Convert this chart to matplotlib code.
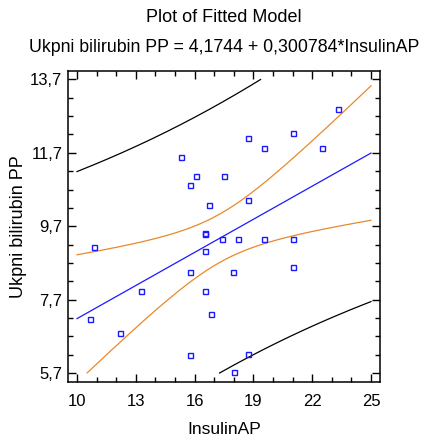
import numpy as np
import matplotlib
matplotlib.use("Agg")
import matplotlib.pyplot as plt
from matplotlib.ticker import FixedLocator, MultipleLocator

plt.rcParams['font.family'] = ['Liberation Sans', 'DejaVu Sans']

# ---- data ----
insulin = [23.30, 21.02, 18.73, 19.52, 22.51, 15.30, 16.05, 17.49, 15.76, 16.74,
           18.73, 10.87, 16.51, 16.51, 17.39, 18.22, 19.52, 21.02, 16.51, 15.76,
           17.95, 21.02, 13.25, 16.51, 10.65, 12.18, 16.83, 15.76, 18.73, 17.99]
bilirubin = [12.89, 12.25, 12.11, 11.84, 11.84, 11.60, 11.07, 11.07, 10.82, 10.28,
             10.41, 9.13, 9.50, 9.52, 9.36, 9.36, 9.36, 9.36, 9.02, 8.45,
             8.45, 8.58, 7.94, 7.94, 7.16, 6.79, 7.30, 6.19, 6.22, 5.74]
intercept = 4.1744
slope = 0.300784
x_ticks = [10, 13, 16, 19, 22, 25]
y_ticks = [5.7, 7.7, 9.7, 11.7, 13.7]
y_tick_labels = ["5,7", "7,7", "9,7", "11,7", "13,7"]

x = np.array(insulin)
y = np.array(bilirubin)
n = len(x)
resid = y - (intercept + slope * x)
s = np.sqrt(np.sum(resid ** 2) / (n - 2))
xbar = x.mean()
sxx = np.sum((x - xbar) ** 2)
df = n - 2
z = 1.959964
t = z + (z**3 + z) / (4 * df) + (5 * z**5 + 16 * z**3 + 3 * z) / (96 * df**2) \
    + (3 * z**7 + 19 * z**5 + 17 * z**3 - 15 * z) / (384 * df**3)

xg = np.linspace(x_ticks[0], x_ticks[-1], 1500)
yfit = intercept + slope * xg
conf = t * s * np.sqrt(1.0 / n + (xg - xbar) ** 2 / sxx)
pred = t * s * np.sqrt(1 + 1.0 / n + (xg - xbar) ** 2 / sxx)

def clip(v):
    v = v.copy()
    v[(v < y_ticks[0]) | (v > y_ticks[-1])] = np.nan
    return v

fig = plt.figure(figsize=(4.22, 4.41), dpi=100)
ax = fig.add_axes([68 / 422, 1 - 382 / 441, 312 / 422, 311 / 441])

lw = 0.9
ax.plot(xg, clip(yfit + pred), color='black', lw=lw)
ax.plot(xg, clip(yfit - pred), color='black', lw=lw)
ax.plot(xg, clip(yfit + conf), color='#e8892a', lw=lw)
ax.plot(xg, clip(yfit - conf), color='#e8892a', lw=lw)
ax.plot(xg, clip(yfit), color='#1a1aff', lw=lw)
ax.plot(x, y, linestyle='none', marker='s', markersize=3.6, markerfacecolor='none',
        markeredgecolor='#1a1aff', markeredgewidth=1.0)

ax.set_xlim(9.54, 25.46)
ax.set_ylim(5.455, 13.93)
ax.xaxis.set_major_locator(FixedLocator(x_ticks))
ax.xaxis.set_minor_locator(MultipleLocator(1))
ax.yaxis.set_major_locator(FixedLocator(y_ticks))
ax.yaxis.set_minor_locator(FixedLocator(np.arange(y_ticks[0], y_ticks[-1] + 0.01, 0.5)))
ax.set_yticklabels(y_tick_labels)
ax.tick_params(which='both', direction='in', top=True, right=True, width=1, colors='black')
ax.tick_params(which='major', length=6)
ax.tick_params(which='minor', length=3.5)
ax.tick_params(axis='x', which='major', labelsize=12, pad=9)
ax.tick_params(axis='y', which='major', labelsize=12, pad=4)
for sp in ax.spines.values():
    sp.set_linewidth(1.1)

cx = (68 + 380) / 2 / 422
fig.text(cx, 1 - 18 / 441, "Plot of Fitted Model", ha='center', va='center', fontsize=13)
fig.text(cx, 1 - 47 / 441, "Ukpni bilirubin PP = 4,1744 + 0,300784*InsulinAP",
         ha='center', va='center', fontsize=12.8)
fig.text(cx, 1 - 429 / 441, "InsulinAP", ha='center', va='center', fontsize=12.5)
fig.text(19 / 422, 1 - 227 / 441, "Ukpni bilirubin PP", ha='center', va='center',
         rotation=90, fontsize=13)

fig.savefig("out.png", dpi=100)
